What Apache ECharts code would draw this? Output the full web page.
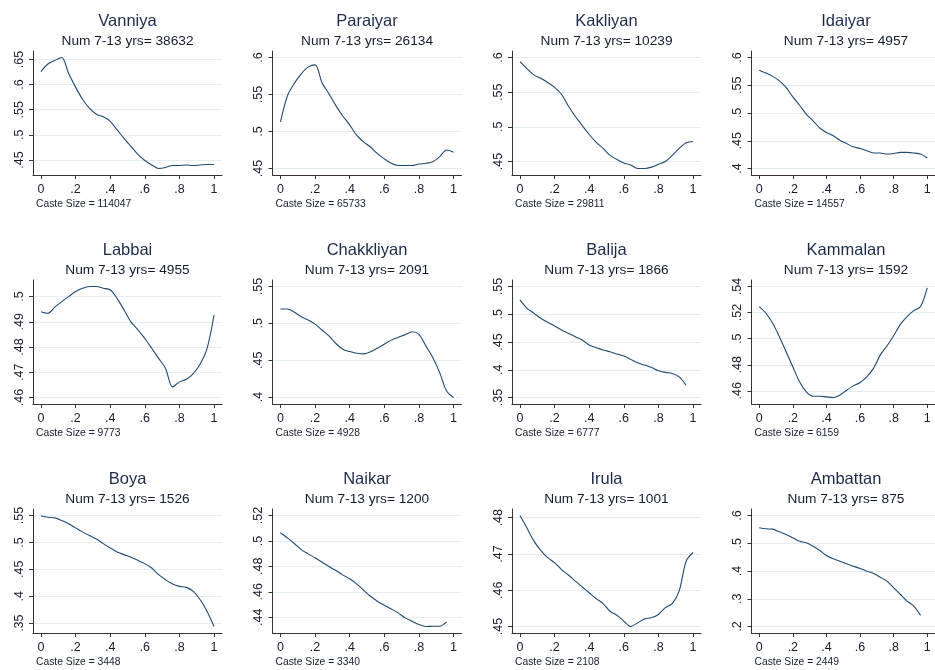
<!DOCTYPE html>
<html>
<head>
<meta charset="utf-8">
<title>Caste panels</title>
<script src="https://cdn.jsdelivr.net/npm/echarts@6/dist/echarts.min.js"></script>
<style>
  html, body { margin: 0; padding: 0; background: #fff; }
  #chart { width: 935px; height: 670px; }
</style>
</head>
<body>
<div id="chart"></div>
<script>
var castes = ['Vanniya', 'Paraiyar', 'Kakliyan', 'Idaiyar', 'Labbai', 'Chakkliyan',
  'Balija', 'Kammalan', 'Boya', 'Naikar', 'Irula', 'Ambattan'];
var numKids = [38632, 26134, 10239, 4957, 4955, 2091, 1866, 1592, 1526, 1200, 1001, 875];
var casteSize = [114047, 65733, 29811, 14557, 9773, 4928, 6777, 6159, 3448, 3340, 2108, 2449];

var xGrid = [0, .04, .08, .12, .16, .2, .24, .28, .32, .36, .4, .44, .48, .52, .56, .6,
  .64, .68, .72, .76, .8, .84, .88, .92, .96, 1];
var xTicks = [0, .2, .4, .6, .8, 1];

var vanniya = [.626, .641, .648, .654, .622, .595, .571, .553, .541, .536, .527, .51, .493,
  .477, .461, .449, .44, .433, .435, .439, .439, .44, .439, .44, .441, .441];
var paraiyar = [.513, .548, .565, .578, .587, .590, .566, .551, .535, .521, .509, .495, .486,
  .479, .47, .463, .457, .454, .454, .454, .456, .457, .459, .466, .475, .472];
var kakliyan = [.594, .584, .575, .570, .564, .557, .547, .530, .515, .502, .489, .478, .469,
  .459, .453, .448, .445, .440, .440, .442, .446, .450, .459, .469, .477, .479];
var idaiyar = [.577, .572, .566, .558, .546, .529, .514, .498, .486, .473, .465, .459, .451,
  .445, .439, .436, .432, .428, .428, .426, .427, .429, .429, .428, .426, .419];
var labbai = [.494, .4934, .4958, .498, .500, .502, .5033, .504, .504, .5033, .5027, .4993, .4947,
  .490, .4868, .4834, .4795, .4755, .4715, .4642, .4662, .4672, .4695, .4733, .4795, .4927];
var chakkliyan = [.5195, .5195, .515, .509, .5045, .499, .491, .483, .4727, .465, .4618, .4595, .4586,
  .4614, .4664, .4718, .4773, .481, .4845, .4886, .485, .4695, .4536, .4332, .4082, .3995];
var balija = [.526, .511, .502, .4928, .4855, .479, .4717, .4657, .4596, .4536, .4446, .4398, .4355,
  .4325, .4283, .4247, .4187, .4127, .4084, .4042, .3982, .3952, .3934, .3873, .372, null];
var kammalan = [.5246, .5195, .5118, .5015, .490, .4785, .4669, .4592, .4559, .4559, .4554, .4549, .4567,
  .4605, .4638, .4664, .4708, .4772, .4874, .4944, .5023, .511, .5169, .5215, .5246, .539];
var boya = [.549, .5467, .5456, .5407, .5345, .527, .5196, .5127, .5065, .4978, .4898, .4823, .4773,
  .4724, .4668, .4606, .4525, .4401, .4307, .4227, .4183, .4165, .409, .3935, .3717, .3438];
var naikar = [.5064, .5024, .498, .4932, .4898, .4867, .4833, .4799, .4767, .4733, .4702, .4662, .4612,
  .4565, .4526, .4494, .4465, .4434, .4395, .4368, .4342, .4327, .4329, .4329, .4363, null];
var irula = [.4806, .4772, .4736, .471, .469, .4676, .4657, .4642, .4625, .4609, .4593, .4577, .4563,
  .4542, .4531, .4515, .450, .451, .4521, .4524, .4533, .4552, .4563, .4598, .468, .4704];
var ambattan = [.5556, .552, .5508, .5411, .5315, .5195, .5075, .5015, .4895, .4739, .4559, .4438, .4354,
  .4258, .4174, .409, .3994, .391, .3778, .3634, .3393, .3153, .2913, .2733, .24, null];

var curves = [vanniya, paraiyar, kakliyan, idaiyar, labbai, chakkliyan,
  balija, kammalan, boya, naikar, irula, ambattan];

var yTicks = [
  [.45, .5, .55, .6, .65],
  [.45, .5, .55, .6],
  [.45, .5, .55, .6],
  [.4, .45, .5, .55, .6],
  [.46, .47, .48, .49, .5],
  [.4, .45, .5, .55],
  [.35, .4, .45, .5, .55],
  [.46, .48, .5, .52, .54],
  [.35, .4, .45, .5, .55],
  [.44, .46, .48, .5, .52],
  [.45, .46, .47, .48],
  [.2, .3, .4, .5, .6]
];

var FONT = 'Liberation Sans, Arial, sans-serif';
var colStep = 239.5, rowStep = 229;
var left0 = 33, top0 = 51, gw = 189, gh = 124;

function fmt(v) {
  if (v === 0) return '0';
  if (v === 1) return '1';
  return String(v).replace(/^0\./, '.');
}

var grids = [], xAxes = [], yAxes = [], series = [], titles = [];

castes.forEach(function (name, i) {
  var r = Math.floor(i / 4), c = i % 4;
  var left = left0 + colStep * c, top = top0 + rowStep * r;
  var ys = curves[i].filter(function (v) { return v != null; });
  var lo = Math.min(Math.min.apply(null, ys), yTicks[i][0]);
  var hi = Math.max(Math.max.apply(null, ys), yTicks[i][yTicks[i].length - 1]);
  var pad = (hi - lo) * 6.5 / 111;

  grids.push({ left: left, top: top, width: gw, height: gh, containLabel: false });
  xAxes.push({
    type: 'value', gridIndex: i, min: -0.046, max: 1.046,
    axisLine: { show: true, onZero: false, lineStyle: { color: '#333', width: 1 } },
    axisTick: { show: true, length: 4, customValues: xTicks, lineStyle: { color: '#333' } },
    axisLabel: { customValues: xTicks, formatter: fmt, fontFamily: FONT, fontSize: 12.5,
      color: '#151c2c', margin: 8 },
    splitLine: { show: false }
  });
  yAxes.push({
    type: 'value', gridIndex: i, min: lo - pad, max: hi + pad,
    axisLine: { show: true, onZero: false, lineStyle: { color: '#333', width: 1 } },
    axisTick: { show: true, length: 4, customValues: yTicks[i], lineStyle: { color: '#333' } },
    axisLabel: { customValues: yTicks[i], formatter: fmt, rotate: 90, fontFamily: FONT,
      fontSize: 12.5, color: '#151c2c', margin: 7 },
    splitLine: { show: true, lineStyle: { color: '#e4edf0', width: 1 } }
  });
  series.push({
    type: 'line', xAxisIndex: i, yAxisIndex: i, showSymbol: false, smooth: 0.3,
    lineStyle: { color: '#1f4a72', width: 1.1 },
    data: xGrid.map(function (x, k) { return [x, curves[i][k]]; })
      .filter(function (p) { return p[1] != null; })
  });
  var cx = left + gw / 2;
  titles.push({
    text: name, left: cx, top: 13 + rowStep * r, textAlign: 'center', padding: 0,
    textStyle: { fontFamily: FONT, fontSize: 16.5, fontWeight: 'normal', color: '#1c2b4a' }
  });
  titles.push({
    text: 'Num 7-13 yrs= ' + numKids[i], left: cx, top: 34.5 + rowStep * r, textAlign: 'center',
    padding: 0,
    textStyle: { fontFamily: FONT, fontSize: 13.7, fontWeight: 'normal', color: '#151c2c' }
  });
  titles.push({
    text: 'Caste Size = ' + casteSize[i], left: left + 3, top: 199.5 + rowStep * r, padding: 0,
    textStyle: { fontFamily: FONT, fontSize: 10.3, fontWeight: 'normal', color: '#151c2c' }
  });
});

var chart = echarts.init(document.getElementById('chart'));
chart.setOption({
  backgroundColor: '#fff',
  animation: false,
  title: titles,
  grid: grids,
  xAxis: xAxes,
  yAxis: yAxes,
  series: series
});
</script>
</body>
</html>
